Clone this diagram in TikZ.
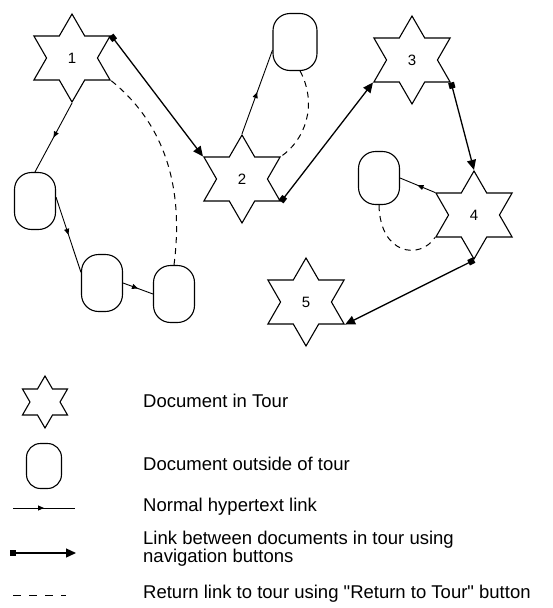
\documentclass[tikz,border=0pt]{standalone}
\usepackage{fontspec}
\setmainfont{Liberation Sans}[Ligatures=TeXOff]
\usetikzlibrary{shapes.geometric,arrows.meta,decorations.markings}
\begin{document}
\begin{tikzpicture}[x=1pt,y=-1pt,
 tourdoc/.style={star, star points=6, star point ratio=1.73, minimum size=88pt, inner sep=0pt, draw, line width=1.1pt, fill=white, font=\fontsize{15}{15}\selectfont},
 outdoc/.style={rectangle, rounded corners=17pt, minimum width=41pt, minimum height=57pt, draw, line width=1.1pt, fill=white},
 navlink/.style={line width=1.3pt, {Square[length=6pt,width=6pt]}-{Triangle[length=10pt,width=9pt]}},
 normlink/.style={line width=0.9pt, postaction={decorate}, decoration={markings, mark=at position 0.5 with {\arrow{Triangle[length=6pt,width=5pt]}}}},
 retlink/.style={line width=1pt, dash pattern=on 6pt off 5pt},
 legtext/.style={anchor=west, inner sep=0pt, font=\fontsize{18.5}{17}\selectfont, align=left}
]
\useasboundingbox (0,0) rectangle (553,608);
% tour documents
\node[tourdoc] (s1) at (72,58) {1};
\node[tourdoc] (s2) at (242,179) {2};
\node[tourdoc] (s3) at (412,60) {3};
\node[tourdoc] (s4) at (474,215) {4};
\node[tourdoc] (s5) at (306,302) {5};
% outside documents
\node[outdoc] (oa) at (35,201) {};
\node[outdoc] (ob) at (102,283) {};
\node[outdoc] (oc) at (174,294) {};
\node[outdoc, minimum width=44pt] (od) at (295,42) {};
\node[outdoc, minimum height=53pt] (oe) at (379,178) {};
% navigation links
\draw[navlink] (s1.outer point 6) -- (s2.outer point 2);
\draw[navlink] (s2.outer point 5) -- (s3.outer point 3);
\draw[navlink] (s3.outer point 5) -- (s4.outer point 1);
\draw[navlink] (s4.outer point 4) -- (s5.outer point 5);
% normal links
\draw[normlink] (s1.outer point 4) -- (oa.north);
\draw[normlink] (oa.10) -- (ob.153);
\draw[normlink] (ob.east) -- (oc.west);
\draw[normlink] (s2.outer point 1) -- (od.200);
\draw[normlink] (s4.outer point 2) -- (oe.east);
% return links
\draw[retlink] (oc.north) .. controls (185,180) and (160,120) .. (s1.outer point 5);
\draw[retlink] (od.-80) .. controls (318,105) and (305,140) .. (s2.outer point 6);
\draw[retlink] (oe.south) .. controls (380,255) and (420,260) .. (s4.outer point 3);
% legend
\node[tourdoc, minimum size=52pt] (ls) at (45,402) {};
\node[outdoc, minimum width=35pt, minimum height=45pt, rounded corners=14pt] (lo) at (44,466) {};
\coordinate (n1) at (13,508); \coordinate (n2) at (75,508);
\draw[normlink] (n1) -- (n2);
\coordinate (v1) at (10,553); \coordinate (v2) at (76,553);
\draw[navlink] (v1) -- (v2);
\coordinate (r1) at (13,595); \coordinate (r2) at (66,595);
\draw[retlink, dash pattern=on 8pt off 8pt] (r1) -- (r2);
\node[legtext] (t1) at (143,401) {Document in Tour};
\node[legtext] (t2) at (143,464) {Document outside of tour};
\node[legtext] (t3) at (143,507) {Normal hypertext link};
\node[legtext] (t4) at (143,549) {Link between documents in tour using\\navigation buttons};
\node[legtext] (t5) at (143,594) {Return link to tour using "Return to Tour" button};
\end{tikzpicture}
\end{document}
